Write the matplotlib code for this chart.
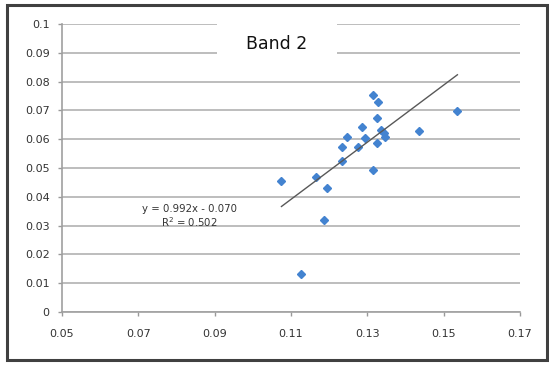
import matplotlib
matplotlib.use("Agg")
from matplotlib import pyplot as plt
from matplotlib.patches import Rectangle
import numpy as np

# 散点数据
x = [0.1316, 0.1327, 0.1536, 0.1326, 0.1286, 0.1335, 0.1435, 0.1344, 0.1347,
     0.1247, 0.1295, 0.1326, 0.1234, 0.1275, 0.1234, 0.1316, 0.1075, 0.1166,
     0.1195, 0.1186, 0.1126]
y = [0.0753, 0.0730, 0.0699, 0.0672, 0.0641, 0.0632, 0.0630, 0.0620, 0.0609,
     0.0606, 0.0605, 0.0588, 0.0574, 0.0574, 0.0524, 0.0493, 0.0454, 0.0470,
     0.0429, 0.0318, 0.0131]

# 趋势线
slope = 0.992
intercept = -0.070
eq_text = "y = 0.992x - 0.070"
r2_text = "R$^2$ = 0.502"

x_ticks = [0.05, 0.07, 0.09, 0.11, 0.13, 0.15, 0.17]
x_labels = ["0.05", "0.07", "0.09", "0.11", "0.13", "0.15", "0.17"]
y_ticks = [0, 0.01, 0.02, 0.03, 0.04, 0.05, 0.06, 0.07, 0.08, 0.09, 0.1]
y_labels = ["0", "0.01", "0.02", "0.03", "0.04", "0.05", "0.06", "0.07", "0.08", "0.09", "0.1"]

fig = plt.figure(figsize=(5.49, 3.65), dpi=100)
ax = fig.add_axes([62 / 549, 1 - 312 / 365, (520 - 62) / 549, (312 - 24) / 365])

ax.set_xlim(0.05, 0.17)
ax.set_ylim(0, 0.1)
ax.set_xticks(x_ticks)
ax.set_xticklabels(x_labels, fontsize=8, color="#333333")
ax.set_yticks(y_ticks)
ax.set_yticklabels(y_labels, fontsize=8, color="#333333")
ax.tick_params(axis="both", length=3, width=1, color="#999999", pad=6)
ax.tick_params(axis="x", pad=9)

ax.grid(axis="y", color="#b8b8b8", linewidth=1.3)
ax.set_axisbelow(True)
for s in ["top", "right"]:
    ax.spines[s].set_visible(False)
for s in ["left", "bottom"]:
    ax.spines[s].set_color("#a0a0a0")
    ax.spines[s].set_linewidth(1.2)

ax.plot(x, y, linestyle="none", marker="D", markersize=3.6, color="#4383d0")

xs = np.array([min(x), max(x)])
ax.plot(xs, slope * xs + intercept, color="#585858", linewidth=1.0)

ax.text(0.0833, 0.0330, eq_text + "\n" + r2_text, fontsize=7.3, color="#333333",
        ha="center", va="center", linespacing=1.1)

# 标题的白底, 遮住网格线
fig.patches.append(Rectangle((217 / 549, 1 - 66 / 365), 120 / 549, 52 / 365,
                             transform=fig.transFigure, facecolor="white",
                             edgecolor="none", zorder=1))
fig.text(277 / 549, 1 - 44 / 365, "Band 2", fontsize=12.5, color="#111111",
         ha="center", va="center", zorder=3)

# 外框
fig.patches.append(Rectangle((7 / 549, 1 - 360 / 365), 540 / 549, 355 / 365,
                             transform=fig.transFigure, fill=False,
                             edgecolor="#404040", linewidth=2.2, zorder=2))

fig.savefig("out.png", dpi=100)
